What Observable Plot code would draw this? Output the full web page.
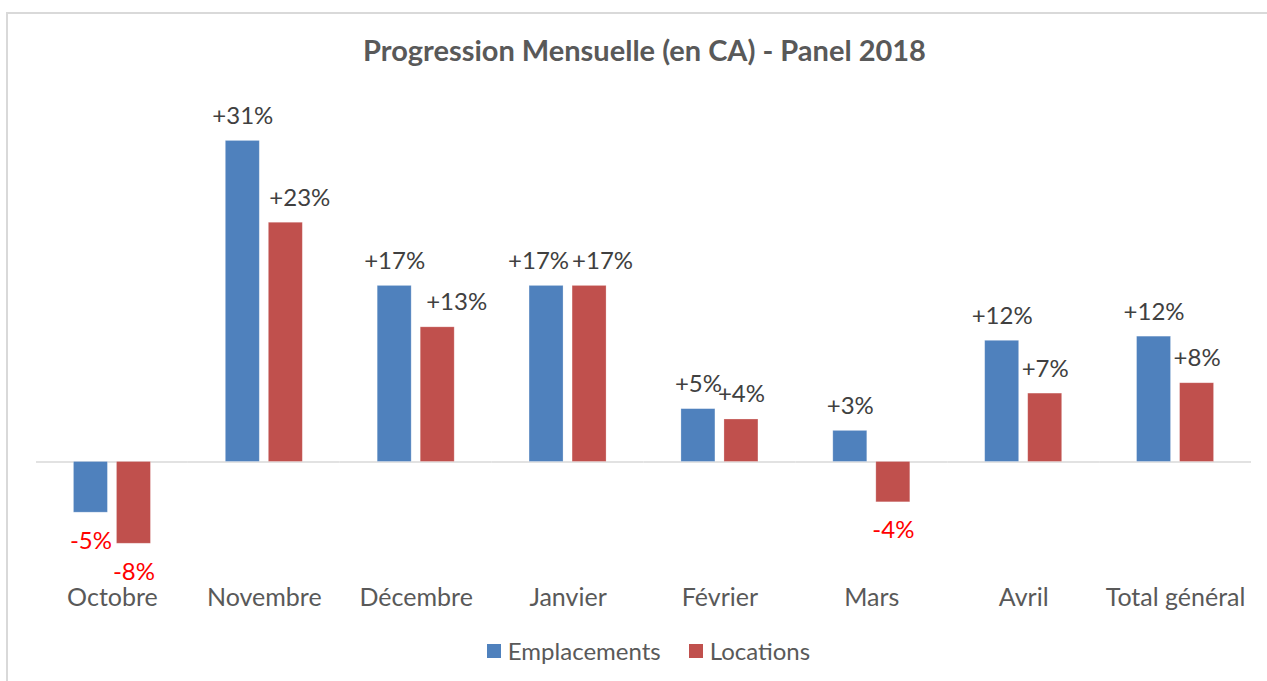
<!DOCTYPE html>
<html>
<head>
<meta charset="utf-8">
<script src="https://cdn.jsdelivr.net/npm/d3@7"></script>
<script src="https://cdn.jsdelivr.net/npm/@observablehq/plot@0.6"></script>
<style>
  html, body { margin: 0; padding: 0; background: #fff; }
  #page { position: relative; width: 1267px; height: 681px; overflow: hidden; font-family: Lato, "Open Sans", sans-serif; }
  #border { position: absolute; left: 6px; top: 12px; width: 1300px; height: 700px; border: 2px solid #d9d9d9; box-sizing: border-box; }
  #title { position: absolute; left: 11px; width: 1267px; top: 31px; text-align: center; font-weight: bold; font-size: 29px; color: #595959; line-height: 38px; }
  #chart { position: absolute; left: 0; top: 80px; }
  #legend { position: absolute; left: 15px; width: 1267px; top: 636px; display: flex; justify-content: center; align-items: center; font-size: 24px; color: #595959; line-height: 30px; }
  .item { display: flex; align-items: center; margin: 0 14px 0 14px; }
  .sw { width: 14px; height: 14px; margin-right: 7px; }
</style>
</head>
<body>
<div id="page">
  <div id="border"></div>
  <div id="title">Progression Mensuelle (en CA) - Panel 2018</div>
  <div id="chart"></div>
  <div id="legend"></div>
</div>
<script>
const months = ["Octobre", "Novembre", "Décembre", "Janvier", "Février", "Mars", "Avril", "Total général"];
const series = ["Emplacements", "Locations"];
const emplacements = [-4.9, 31.0, 17.0, 17.0, 5.1, 3.0, 11.7, 12.1];
const locations = [-7.9, 23.1, 13.0, 17.0, 4.1, -3.9, 6.6, 7.6];
const colors = ["#4f81bd", "#c0504d"];

const data = [];
months.forEach((m, i) => {
  data.push({month: m, series: series[0], value: emplacements[i]});
  data.push({month: m, series: series[1], value: locations[i]});
});
const fmt = v => (v >= 0 ? "+" : "-") + Math.round(Math.abs(v)) + "%";

// labels that Excel nudged sideways
const is = (m, s) => d => d.month === m && d.series === s;
const nudged = [is("Novembre", series[1]), is("Décembre", series[1]), is("Janvier", series[0]), is("Janvier", series[1])];
const plain = d => d.value >= 0 && !nudged.some(f => f(d));

const posText = (filter, dx) => Plot.text(data.filter(filter), {
  fx: "month", x: "series", y: "value", text: d => fmt(d.value),
  lineAnchor: "bottom", dy: -17, dx, fontSize: 24, fill: "#404040"
});

const chart = Plot.plot({
  width: 1267,
  height: 545,
  marginLeft: 36,
  marginRight: 16,
  marginTop: 19,
  marginBottom: 60,
  style: {fontFamily: "Lato, 'Open Sans', sans-serif", background: "transparent"},
  fx: {domain: months, padding: 0, round: false, label: null, axis: null},
  x: {domain: series, paddingInner: 0.21, paddingOuter: 0.87, round: false, axis: null},
  y: {domain: [-10, 35], axis: null},
  color: {domain: series, range: colors},
  marks: [
    Plot.axisFx({anchor: "bottom", tickSize: 0, tickPadding: 23, fontSize: 25, fill: "#595959", label: null}),
    Plot.ruleY([0], {stroke: "#d9d9d9", strokeWidth: 1.5}),
    Plot.barY(data, {fx: "month", x: "series", y: "value", fill: "series", stroke: "#ffffff", strokeOpacity: 0.35, strokeWidth: 0.75}),
    posText(plain, 0),
    posText(nudged[0], 14),
    posText(nudged[1], 19),
    posText(nudged[2], -8),
    posText(nudged[3], 13),
    Plot.text(data.filter(d => d.value < 0), {fx: "month", x: "series", y: "value", text: d => fmt(d.value), lineAnchor: "top", dy: 19, fontSize: 24, fill: "#ff0000"})
  ]
});
document.getElementById("chart").appendChild(chart);

const legend = document.getElementById("legend");
series.forEach((s, i) => {
  const it = document.createElement("div");
  it.className = "item";
  const sw = document.createElement("div");
  sw.className = "sw";
  sw.style.background = colors[i];
  const t = document.createElement("span");
  t.textContent = s;
  it.appendChild(sw);
  it.appendChild(t);
  legend.appendChild(it);
});
</script>
</body>
</html>
